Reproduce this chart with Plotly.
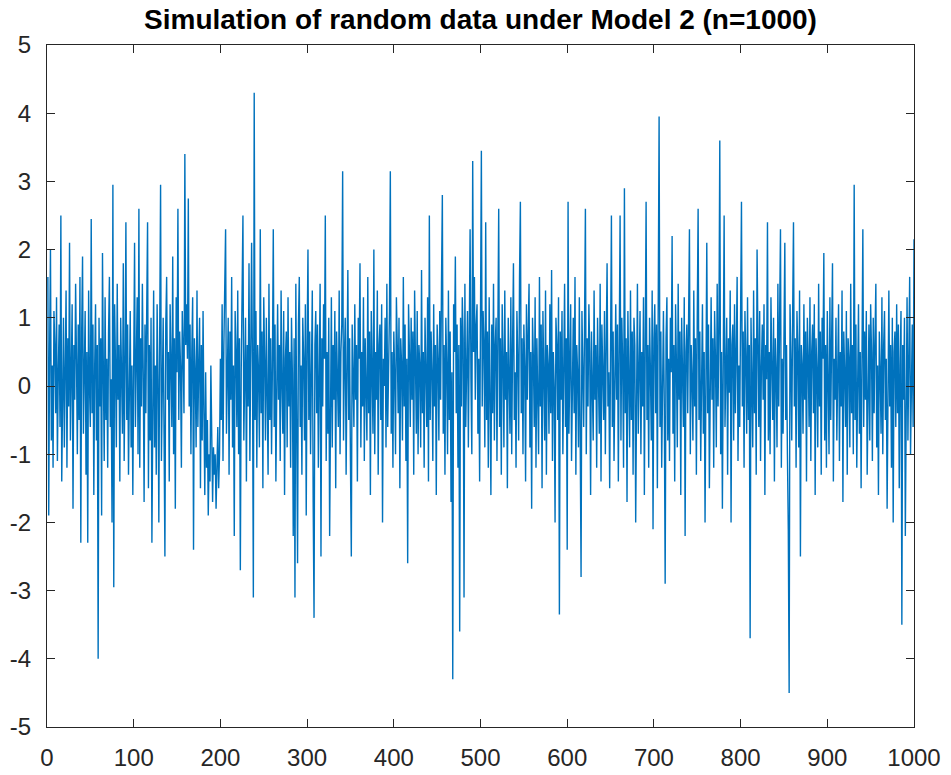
import plotly.graph_objects as go

title_text = "Simulation of random data under Model 2 (n=1000)"
x_ticks = [0, 100, 200, 300, 400, 500, 600, 700, 800, 900, 1000]
y_ticks = [-5, -4, -3, -2, -1, 0, 1, 2, 3, 4, 5]

seg_000 = [1.6, -1.9, 0.5, 2.0, -0.8, 0.3, -1.2, 1.1, 0.6, -0.4,
           1.3, -1.1, 0.2, 0.9, -0.6, 2.5, -1.4, 0.4, 1.0, -0.9,
           0.1, 1.4, -1.2, 0.7, -0.3, 2.1, -0.8, 0.3, 1.2, -1.8,
           0.6, -0.2, 1.5, 0.4, -1.0, 0.9, -0.5, 1.6, -2.3, 0.8,
           1.9, -0.7, 0.2, 1.1, -1.3, 0.5, -2.3, 1.4, 0.0, -0.6]
seg_050 = [2.45, -0.4, 0.9, -1.6, 0.3, 1.2, -0.8, 0.6, -4.0, 1.0,
           -0.3, 0.7, -1.9, 1.95, 0.2, -1.1, 1.3, -0.5, 0.4, -1.2,
           0.8, 1.6, -0.6, 0.1, -2.0, 2.95, -2.95, 1.2, 0.3, -0.9,
           1.5, -0.2, 0.6, -1.4, 1.0, 0.4, -0.7, 1.8, -1.1, 0.2,
           2.4, -0.5, 0.9, -1.3, 0.5, 1.1, -0.9, 0.3, -1.6, 1.2]
seg_100 = [2.1, -0.6, 0.4, 1.3, -1.0, 2.6, -1.2, 0.7, -0.3, 1.5,
           0.2, -1.7, 0.9, -0.4, 1.1, 2.4, -1.5, 0.6, -0.8, 1.0,
           -2.3, 0.5, 1.4, -0.9, 0.3, -1.3, 1.2, 0.1, -2.0, 0.8,
           2.95, -1.1, 0.4, 1.0, -0.7, -2.5, 0.9, 1.6, -0.2, 0.5,
           -1.4, 1.2, 0.3, -0.6, 1.9, -1.0, 0.7, -1.8, 1.3, 0.2]
seg_150 = [2.6, -0.5, 0.8, 0.3, -1.2, 1.1, 0.5, -0.4, 3.4, 0.6,
           1.2, 0.4, 2.75, -0.3, 0.9, -1.0, 0.5, 1.3, -2.4, 0.7,
           0.2, -0.9, 1.4, -0.6, 0.3, 1.0, -1.5, 0.6, -0.8, 1.1,
           -0.4, -1.6, 0.2, -1.2, -0.5, -1.9, -1.0, -1.4, 0.3, -1.1,
           -1.7, -0.9, -1.3, -1.0, -1.8, -1.2, -0.6, -1.5, -1.0, 0.4]
seg_200 = [-0.5, 1.2, -1.1, 0.6, 1.5, 2.3, -0.7, 0.4, 1.0, -1.3,
           0.8, -0.2, 1.6, -0.9, 0.3, -2.2, 1.1, 0.5, -0.6, 1.4,
           -1.0, 0.7, -2.7, 0.2, 1.2, 2.5, -0.8, 0.4, 1.0, -1.4,
           0.6, -0.3, 1.8, -1.1, 0.9, 2.1, 0.3, -3.1, 4.3, -0.5,
           1.1, -1.2, 0.6, 0.2, -0.9, 2.3, -0.4, 0.8, -1.5, 1.3]
seg_250 = [0.4, -0.8, 1.0, 0.1, -1.3, 1.5, -0.5, 0.7, -1.0, 0.3,
           2.3, -0.6, 0.9, -1.4, 0.5, 1.2, -0.2, 0.6, -1.1, 1.4,
           0.0, -0.7, 1.1, -1.6, 0.4, 0.8, -0.9, 1.3, -0.3, 0.5,
           -1.2, 1.0, 0.2, -2.2, 0.7, -3.1, 1.5, -0.4, -2.6, 0.9,
           1.6, -0.6, 0.3, -1.3, 1.0, 0.4, -0.8, 1.2, -1.9, 0.6]
seg_300 = [2.0, -0.5, 0.8, -1.0, 0.3, 1.4, -1.7, -3.4, 0.6, 1.1,
           -0.4, 0.9, -1.2, 0.2, 1.5, -2.5, 0.7, -0.3, 1.2, 0.4,
           2.5, -1.1, 0.5, -0.7, 1.0, -2.2, 0.3, 1.3, -0.9, 0.6,
           -0.2, 1.1, -1.5, 0.8, 0.1, -0.6, 1.4, -1.0, 0.5, 0.9,
           3.15, -0.8, 0.4, 1.0, -1.3, 0.2, 1.7, -0.5, 0.7, -1.1]
seg_350 = [-2.5, 0.9, 0.3, -0.6, 1.2, -0.2, 0.6, -1.4, 1.0, 0.4,
           1.8, -0.9, 0.5, -0.3, 1.3, -1.1, 0.7, 0.1, -0.8, 1.6,
           -0.4, 0.8, -1.6, 1.1, 0.3, -0.7, 2.0, -1.0, 0.5, -0.2,
           1.4, -1.3, 0.6, 0.9, -0.5, 1.2, -2.0, 0.4, 0.0, 1.0,
           -0.9, 1.5, -0.6, 0.3, 1.1, 3.15, -0.7, 0.5, -1.2, 0.8]
seg_400 = [0.2, -1.0, 1.3, 0.6, -0.4, 1.0, -1.5, 0.7, 0.3, -0.8,
           1.6, -0.3, 0.9, -1.1, 0.4, -2.6, 1.2, 0.5, -0.6, 1.0,
           -0.2, 0.8, -1.3, 1.4, 0.1, -0.7, 1.1, -1.0, 0.6, 0.3,
           -0.9, 1.7, -0.4, 0.5, -1.2, 1.0, 0.2, -0.6, 1.3, -1.4,
           2.5, -0.5, 0.8, 0.2, -1.1, 1.2, -0.3, 0.6, -1.6, 0.9]
seg_450 = [0.4, -0.8, 1.1, -0.2, 1.5, 2.8, -0.7, 0.6, -1.3, 1.0,
           0.3, -1.0, 1.4, -0.5, 0.8, -1.7, 0.2, -4.3, 1.2, 0.5,
           1.9, -0.4, 0.9, -1.2, 0.6, -3.6, 1.0, -0.3, 1.3, 0.7,
           -3.1, 1.5, -0.6, 0.4, 1.1, -0.9, 0.7, 2.3, 0.1, -1.0,
           3.3, 0.5, 1.6, -0.2, 0.9, 1.2, -0.7, 0.4, -1.4, 1.0]
seg_500 = [3.45, -0.3, 1.1, 0.6, -0.9, 2.4, -0.5, 0.8, -1.2, 1.3,
           0.2, -1.6, 0.9, -0.4, 1.5, -0.8, 0.6, 1.0, -1.1, 0.3,
           2.6, -0.6, 0.7, -1.3, 1.2, 0.4, -0.9, 1.4, -0.2, 0.5,
           -1.5, 1.0, 0.1, -0.7, 1.3, -1.0, 0.6, 1.8, -0.5, 0.2,
           -1.2, 1.1, 0.4, -0.8, 1.6, 2.7, -0.4, 0.7, -1.0, 0.9]
seg_550 = [0.3, -1.4, 1.2, -0.2, 0.8, 1.5, -0.9, 0.5, -1.8, 1.0,
           0.4, -0.6, 1.3, -1.2, 0.7, 0.1, -1.0, 1.6, -0.3, 0.9,
           -1.5, 1.1, 0.2, -0.8, 1.4, -1.3, 0.6, 0.3, -0.7, 1.2,
           -0.4, 1.7, -1.1, 0.5, 0.0, -2.0, 1.0, 0.6, -0.5, 1.3,
           -3.35, 0.8, -0.2, 1.1, -1.0, 0.4, 1.5, -0.6, 0.7, -2.4]
seg_600 = [2.7, -0.7, 0.5, 1.2, -1.1, 0.3, 1.0, -0.4, 1.6, -1.3,
           0.6, 0.2, -0.9, 1.3, -0.5, -2.8, 1.1, 0.4, -0.6, 0.9,
           2.6, -1.0, 0.7, -0.3, 1.2, 0.5, -1.6, 0.8, 0.1, -0.8,
           1.4, -0.2, 0.6, -1.2, 1.0, 0.3, -0.7, 1.5, -1.4, 0.9,
           0.4, -0.5, 1.1, -1.0, 0.6, 1.8, -0.3, 0.2, -1.5, 1.3]
seg_650 = [2.5, -0.6, 0.8, -1.1, 0.4, 1.2, -0.2, 0.9, -1.4, 0.5,
           2.5, -0.8, 1.0, 0.3, -1.2, 2.9, -0.4, 0.7, -1.7, 1.1,
           0.2, -0.9, 1.4, -0.5, 0.8, -1.3, 1.0, 0.6, -2.0, 0.3,
           1.5, -0.7, 0.4, 1.1, -1.0, 0.5, -0.3, 1.3, -1.6, 0.9,
           2.7, -0.5, 0.6, -1.2, 1.0, 0.2, -0.8, 1.4, -2.1, 0.7]
seg_700 = [1.2, -0.4, 0.9, -1.5, 2.3, 3.95, -0.6, 0.8, -1.2, 0.5,
           1.1, -0.3, -2.9, 0.7, 1.3, -0.8, 0.4, -1.1, 1.0, 0.2,
           2.2, -0.7, 0.6, -1.4, 1.2, 0.3, -0.9, 1.5, -0.2, 0.8,
           -1.6, 1.0, 0.4, -0.6, 1.3, -2.2, 0.5, 0.9, -0.4, 1.1,
           2.3, -1.0, 0.6, 0.1, -0.8, 1.4, -0.3, 0.7, -1.3, 1.0]
seg_750 = [2.6, -0.5, 0.8, -1.1, 0.3, 1.2, -0.7, 0.5, -2.0, 1.0,
           2.1, -0.4, 0.9, -1.5, 0.6, 1.3, -0.2, 0.7, -1.2, 1.1,
           0.4, -0.9, 1.5, -0.3, 0.8, 3.6, -1.0, 0.5, -1.8, 1.2,
           2.5, -0.6, 0.3, 1.0, -1.3, 0.7, -0.1, 1.4, -2.0, 0.6,
           0.9, -0.8, 1.2, -0.4, 0.5, 1.6, -1.1, 0.3, -0.6, 1.0]
seg_800 = [2.7, -0.3, 0.8, -1.2, 1.1, 0.4, -0.7, 1.3, -0.5, 0.6,
           -3.7, 1.0, 0.2, -0.9, 1.4, -0.4, 0.7, -1.3, 2.0, 0.5,
           -0.6, 1.1, -1.1, 0.3, 0.9, -0.2, 1.2, -1.6, 0.6, 0.1,
           2.4, -0.8, 0.5, -1.0, 1.3, 0.3, -0.5, 1.0, -1.4, 0.7,
           0.2, -0.9, 1.5, -0.3, 0.8, 2.3, -1.2, 0.4, -0.7, 1.1]
seg_850 = [2.1, -0.5, 0.6, -1.0, -2.1, -4.5, 1.2, 0.4, -0.8, 1.0,
           2.4, -0.3, 0.7, -1.2, 1.1, 0.5, -0.9, 1.4, -2.5, 0.6,
           0.3, -0.7, 1.2, -0.2, 0.8, -1.4, 1.0, 0.4, -0.6, 1.3,
           -1.1, 0.5, 0.9, -0.4, 1.2, -1.6, 0.7, 0.2, -0.9, 1.5,
           -0.3, 0.8, -1.3, 1.0, 0.4, 1.95, -0.8, 0.6, -1.2, 1.1]
seg_900 = [0.3, -1.0, 1.3, -0.5, 0.7, 1.8, -1.4, 0.4, -0.2, 1.0,
           -0.8, 0.6, 1.2, -1.1, 0.5, -0.3, 1.4, -1.7, 0.8, 0.2,
           -0.6, 1.1, -1.3, 0.7, 0.4, -0.9, 1.5, -0.4, 0.6, -1.0,
           2.95, -0.5, 0.9, -1.2, 0.3, 1.2, -0.7, 0.5, -1.5, 1.0,
           2.3, -0.6, 0.8, -0.2, 1.1, -1.3, 0.4, 0.9, -0.8, 1.2]
seg_950 = [0.5, -1.1, 1.0, -0.4, 0.7, 1.5, -0.9, 0.3, -1.6, 0.8,
           0.2, -0.7, 1.3, -1.0, 0.6, 1.1, -0.5, 0.4, -1.8, 0.9,
           1.4, -0.3, 0.6, -1.2, 1.0, -2.0, 0.5, 0.8, -0.6, 1.2,
           -0.4, 0.9, -1.5, 0.3, 1.1, -3.5, 0.6, -0.2, 1.0, -2.2,
           0.7, 1.3, -0.8, 0.4, 1.6, -1.0, 0.5, 0.9, -0.6, 2.15]

values = (seg_000 + seg_050 + seg_100 + seg_150 + seg_200 + seg_250 + seg_300
          + seg_350 + seg_400 + seg_450 + seg_500 + seg_550 + seg_600 + seg_650
          + seg_700 + seg_750 + seg_800 + seg_850 + seg_900 + seg_950)
index = list(range(1, len(values) + 1))

axis_color = "#262626"
font_family = "Liberation Sans, Arial, Helvetica, sans-serif"

fig = go.Figure()
fig.add_trace(go.Scatter(x=index, y=values, mode="lines",
                         line=dict(color="#0072BD", width=1.4),
                         hoverinfo="x+y", showlegend=False))

common_axis = dict(showline=True, linecolor=axis_color, linewidth=1,
                   mirror="ticks", ticks="inside", ticklen=8, tickwidth=1,
                   tickcolor=axis_color, showgrid=False, zeroline=False,
                   automargin=False,
                   tickfont=dict(family=font_family, size=24, color=axis_color))

fig.update_xaxes(range=[0, 1000], tickvals=x_ticks,
                 ticktext=[str(v) for v in x_ticks],
                 ticklabelstandoff=9, **common_axis)
fig.update_yaxes(range=[-5, 5], tickvals=y_ticks,
                 ticktext=[str(v) for v in y_ticks],
                 ticklabelstandoff=10, **common_axis)

fig.update_layout(
    width=951, height=775,
    margin=dict(l=47, r=37, t=45, b=48, pad=0, autoexpand=False),
    paper_bgcolor="white", plot_bgcolor="white",
    title=dict(text="<b>" + title_text + "</b>", x=0.5, xref="paper",
               y=1 - 19 / 775, yref="container", yanchor="middle",
               xanchor="center", automargin=False,
               font=dict(family=font_family, size=28, color="black")),
)

fig.write_html("out.html")
